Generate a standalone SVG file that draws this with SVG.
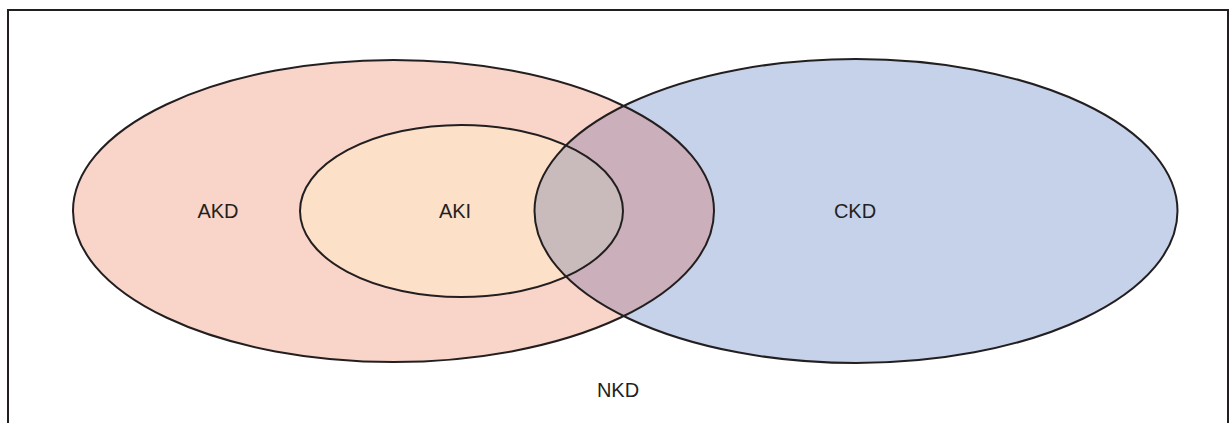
<svg xmlns="http://www.w3.org/2000/svg" width="1229" height="423" viewBox="0 0 1229 423">
<style>
.lbl{font-family:"Liberation Sans",Arial,sans-serif;font-size:20px;fill:#231f20;text-anchor:middle;dominant-baseline:central}
.ol{fill:none;stroke:#231f20;stroke-width:2}
</style>
<defs>
<clipPath id="cAKD"><ellipse cx="393.5" cy="211" rx="320.5" ry="151"/></clipPath>
<clipPath id="cAKI"><ellipse cx="461.5" cy="211" rx="161.5" ry="86"/></clipPath>
</defs>
<rect x="0" y="0" width="1229" height="423" fill="#ffffff"/>
<rect x="8" y="10" width="1220" height="430" fill="none" stroke="#231f20" stroke-width="2"/>
<g id="AKD"><ellipse cx="393.5" cy="211" rx="320.5" ry="151" fill="#f9d4c8"/></g>
<g id="AKI"><ellipse cx="461.5" cy="211" rx="161.5" ry="86" fill="#fde0c8"/></g>
<g id="CKD">
<ellipse cx="856" cy="211" rx="321.5" ry="152" fill="#c5d2ea"/>
<ellipse cx="856" cy="211" rx="321.5" ry="152" fill="#cbb0bc" clip-path="url(#cAKD)"/>
<ellipse cx="856" cy="211" rx="321.5" ry="152" fill="#c9bbbc" clip-path="url(#cAKI)"/>
</g>
<g id="outlines">
<ellipse class="ol" cx="393.5" cy="211" rx="320.5" ry="151"/>
<ellipse class="ol" cx="461.5" cy="211" rx="161.5" ry="86"/>
<ellipse class="ol" cx="856" cy="211" rx="321.5" ry="152"/>
</g>
<g id="labels">
<text class="lbl" x="218" y="211">AKD</text>
<text class="lbl" x="455" y="211">AKI</text>
<text class="lbl" x="855" y="211">CKD</text>
<text class="lbl" x="618" y="390">NKD</text>
</g>
</svg>
